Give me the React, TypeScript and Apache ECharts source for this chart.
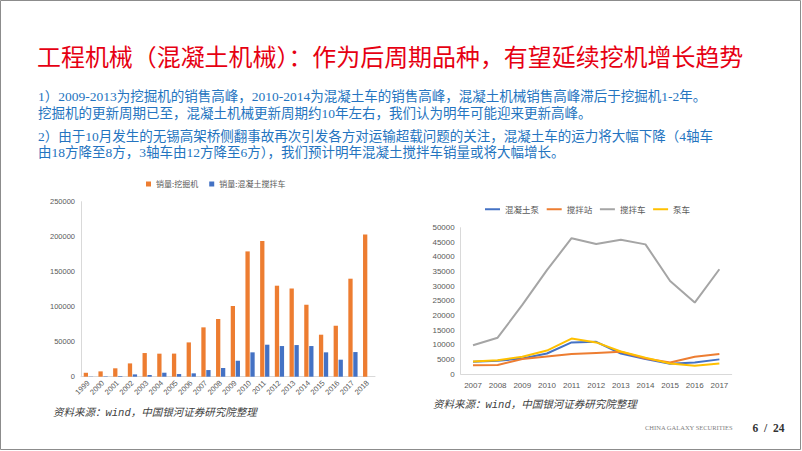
import React, { useEffect, useRef } from "react";
import * as echarts from "echarts";

const titleText = "工程机械（混凝土机械）：作为后周期品种，有望延续挖机增长趋势";
const paragraphLines = [
  "1）2009-2013为挖掘机的销售高峰，2010-2014为混凝土车的销售高峰，混凝土机械销售高峰滞后于挖掘机1-2年。",
  "挖掘机的更新周期已至，混凝土机械更新周期约10年左右，我们认为明年可能迎来更新高峰。",
  "2）由于10月发生的无锡高架桥侧翻事故再次引发各方对运输超载问题的关注，混凝土车的运力将大幅下降（4轴车",
  "由18方降至8方，3轴车由12方降至6方），我们预计明年混凝土搅拌车销量或将大幅增长。",
];
const sourceText = "资料来源：wind，中国银河证券研究院整理";

const years1 = ["1999", "2000", "2001", "2002", "2003", "2004", "2005", "2006", "2007", "2008", "2009", "2010", "2011", "2012", "2013", "2014", "2015", "2016", "2017", "2018"];
const excavatorSales = [5600, 7600, 12000, 19000, 33800, 32900, 33000, 49000, 70500, 82400, 101000, 179000, 193800, 130000, 126000, 102800, 60000, 72800, 140000, 203000];
const mixerTruckSales = [300, 600, 900, 3300, 2400, 5700, 3800, 4800, 9500, 12400, 22800, 34800, 45700, 43800, 45200, 43800, 34800, 24300, 35200, null];

const years2 = ["2007", "2008", "2009", "2010", "2011", "2012", "2013", "2014", "2015", "2016", "2017"];
const concretePump = [4200, 4500, 5300, 7000, 10800, 11000, 7000, 5100, 3500, 3900, 5000];
const mixingStation = [3000, 3100, 5100, 6000, 6800, 7200, 7600, 5300, 3900, 5900, 6800];
const mixerTruck = [9800, 12400, 23600, 35500, 46400, 44400, 45900, 44300, 31800, 24400, 35800];
const pumpTruck = [4300, 4700, 5900, 8000, 12100, 10800, 7700, 5600, 3600, 2800, 3600];

const AXIS_FONT = "'Liberation Sans', 'Noto Sans CJK SC', sans-serif";
const CJK_FONT = "'Noto Sans CJK SC', sans-serif";
const SERIF_MIX = "'Liberation Serif', 'Noto Sans CJK SC', serif";

export default function App() {
  const ref = useRef<HTMLDivElement>(null);
  useEffect(() => {
    document.body.style.margin = "0";
    const chart = echarts.init(ref.current!, null, { renderer: "svg" });
    const axisLineStyle = { lineStyle: { color: "#d9d9d9", width: 1 } };
    const axisLabelBase = { color: "#595959", fontFamily: AXIS_FONT };
    const plain = (v: number) => String(v);
    chart.setOption({
      animation: false,
      backgroundColor: "#ffffff",
      textStyle: { fontFamily: CJK_FONT },
      grid: [
        { left: 81, top: 201.7, width: 294, height: 175 },
        { left: 460.7, top: 227.7, width: 271, height: 146.3 },
      ],
      xAxis: [
        {
          gridIndex: 0,
          type: "category",
          data: years1,
          axisLine: axisLineStyle,
          axisTick: { show: false },
          axisLabel: { ...axisLabelBase, rotate: 45, fontSize: 7.5, margin: 5, interval: 0 },
        },
        {
          gridIndex: 1,
          type: "category",
          data: years2,
          axisLine: axisLineStyle,
          axisTick: { show: false },
          axisLabel: { ...axisLabelBase, fontSize: 8, margin: 7, interval: 0 },
        },
      ],
      yAxis: [
        {
          gridIndex: 0,
          type: "value",
          min: 0,
          max: 250000,
          interval: 50000,
          axisLine: { show: true, ...axisLineStyle },
          axisTick: { show: false },
          splitLine: { show: false },
          axisLabel: { ...axisLabelBase, fontSize: 7.5, margin: 6, formatter: plain },
        },
        {
          gridIndex: 1,
          type: "value",
          min: 0,
          max: 50000,
          interval: 5000,
          axisLine: { show: true, ...axisLineStyle },
          axisTick: { show: false },
          splitLine: { show: false },
          axisLabel: { ...axisLabelBase, fontSize: 8, margin: 6, formatter: plain },
        },
      ],
      legend: [
        {
          data: ["销量:挖掘机", "销量:混凝土搅拌车"],
          left: 146,
          top: 180,
          icon: "rect",
          itemWidth: 5,
          itemHeight: 5,
          itemGap: 11,
          padding: 0,
          textStyle: { fontSize: 8, color: "#595959", fontFamily: CJK_FONT },
        },
        {
          data: ["混凝土泵", "搅拌站", "搅拌车", "泵车"],
          left: 485,
          top: 205,
          icon: "rect",
          itemWidth: 15,
          itemHeight: 2,
          itemGap: 7.7,
          padding: 0,
          textStyle: { fontSize: 8.5, color: "#595959", fontFamily: CJK_FONT },
        },
      ],
      series: [
        {
          name: "销量:挖掘机",
          type: "bar",
          xAxisIndex: 0,
          yAxisIndex: 0,
          data: excavatorSales,
          barWidth: 4.3,
          barGap: "15%",
          itemStyle: { color: "#ED7D31" },
        },
        {
          name: "销量:混凝土搅拌车",
          type: "bar",
          xAxisIndex: 0,
          yAxisIndex: 0,
          data: mixerTruckSales,
          barWidth: 4.3,
          barGap: "15%",
          itemStyle: { color: "#4472C4" },
        },
        {
          name: "混凝土泵",
          type: "line",
          xAxisIndex: 1,
          yAxisIndex: 1,
          data: concretePump,
          symbol: "none",
          itemStyle: { color: "#4472C4" },
          lineStyle: { color: "#4472C4", width: 2 },
        },
        {
          name: "搅拌站",
          type: "line",
          xAxisIndex: 1,
          yAxisIndex: 1,
          data: mixingStation,
          symbol: "none",
          itemStyle: { color: "#ED7D31" },
          lineStyle: { color: "#ED7D31", width: 2 },
        },
        {
          name: "搅拌车",
          type: "line",
          xAxisIndex: 1,
          yAxisIndex: 1,
          data: mixerTruck,
          symbol: "none",
          itemStyle: { color: "#A5A5A5" },
          lineStyle: { color: "#A5A5A5", width: 2 },
        },
        {
          name: "泵车",
          type: "line",
          xAxisIndex: 1,
          yAxisIndex: 1,
          data: pumpTruck,
          symbol: "none",
          itemStyle: { color: "#FFC000" },
          lineStyle: { color: "#FFC000", width: 2 },
        },
      ],
      graphic: [
        {
          type: "rect",
          shape: { x: 0.5, y: 0.5, width: 800, height: 449 },
          style: { fill: "none", stroke: "#8c8c8c", lineWidth: 1 },
          silent: true,
        },
        {
          type: "text",
          x: 37,
          y: 56,
          scaleX: 1.015,
          style: {
            text: titleText,
            fontSize: 23.6,
            fill: "#e60012",
            fontFamily: CJK_FONT,
            verticalAlign: "middle",
          },
        },
        ...paragraphLines.map((line, i) => ({
          type: "text",
          x: 38,
          y: [96.7, 113.3, 136.7, 152.5][i],
          style: {
            text: line,
            fontSize: 13.5,
            fill: "#2474c0",
            fontFamily: SERIF_MIX,
            verticalAlign: "middle",
          },
        })),
        {
          type: "text",
          x: 53,
          y: 413,
          style: {
            text: sourceText,
            fontSize: 10.5,
            fontStyle: "italic",
            fill: "#404040",
            fontFamily: "'Liberation Mono', 'Noto Sans CJK SC', monospace",
            verticalAlign: "middle",
          },
        },
        {
          type: "text",
          x: 433,
          y: 405,
          style: {
            text: sourceText,
            fontSize: 10.5,
            fontStyle: "italic",
            fill: "#404040",
            fontFamily: "'Liberation Mono', 'Noto Sans CJK SC', monospace",
            verticalAlign: "middle",
          },
        },
        {
          type: "text",
          x: 645,
          y: 427.5,
          style: {
            text: "CHINA GALAXY SECURITIES",
            fontSize: 6.5,
            fill: "#7f7f7f",
            fontFamily: "'Liberation Serif', serif",
            verticalAlign: "middle",
          },
        },
        {
          type: "text",
          x: 752.5,
          y: 427.5,
          style: {
            text: "6  /  24",
            fontSize: 11.5,
            fontWeight: "bold",
            fill: "#333333",
            fontFamily: "'Liberation Serif', serif",
            verticalAlign: "middle",
          },
        },
      ],
    });
    return () => chart.dispose();
  }, []);
  return <div ref={ref} style={{ width: 802, height: 451 }} />;
}
